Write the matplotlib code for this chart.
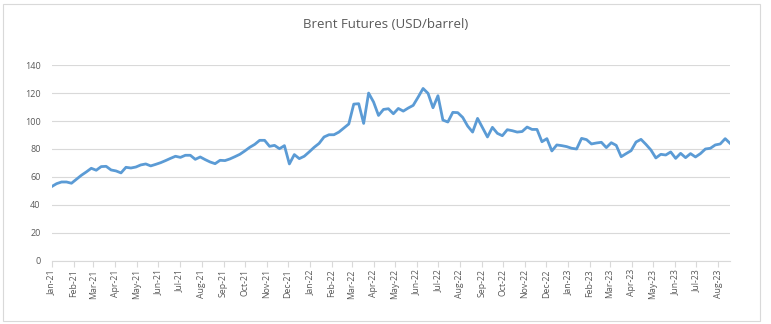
import numpy as np
import pandas as pd
import matplotlib.pyplot as plt
import matplotlib.dates as mdates
from matplotlib.patches import Rectangle

# weekly Brent futures prices (USD/barrel)
prices = [
    53.1, 55.2, 56.4, 56.4, 55.5, 58.3, 61.2, 63.6, 66.2, 64.8,
    67.4, 67.6, 65.0, 64.3, 62.9, 66.9, 66.4, 67.1, 68.6, 69.3,
    67.9, 69.0, 70.2, 71.7, 73.3, 74.8, 74.0, 75.5, 75.5, 72.6,
    74.3, 72.4, 70.7, 69.5, 71.9, 71.7, 72.9, 74.5, 76.2, 78.6,
    81.2, 83.3, 86.2, 86.2, 81.9, 82.6, 80.2,
    82.4, 69.3, 76.0, 73.1, 74.8, 77.9, 81.2, 84.0, 88.6, 90.2,
    90.2, 92.1, 95.0, 97.9, 112.1, 112.4, 98.3, 120.0, 113.6, 104.0,
    108.3, 108.8, 105.2, 109.0, 107.1, 109.3, 111.2, 117.1, 123.3, 119.8,
    109.5, 118.1, 100.7, 99.3, 106.2, 106.0, 102.6, 96.4, 92.1, 101.9,
    95.2, 88.6, 95.5, 91.2, 89.5, 93.8, 93.1, 92.1,
    92.5, 95.7, 94.0, 94.0, 85.2, 87.4, 78.6, 82.9, 82.4, 81.7,
    80.5, 80.0, 87.6, 86.7, 83.6, 84.3, 84.8, 81.0, 84.5, 82.6,
    74.5, 76.7, 78.8, 85.0, 86.9, 83.3, 79.3, 73.6, 76.2, 75.7,
    77.9, 73.3, 76.9, 73.8, 76.7, 74.3, 76.7, 80.0, 80.5, 82.9,
    83.6, 87.4, 84.0,
]
dates = pd.date_range("2021-01-01", periods=len(prices), freq="7D")

title = "Brent Futures (USD/barrel)"
text_col = "#595959"
grid_col = "#d9d9d9"

plt.rcParams['font.family'] = ['Open Sans', 'DejaVu Sans']

fig = plt.figure(figsize=(7.71, 3.24), dpi=100)
fig.patches.append(Rectangle((0.004, 0.009), 0.982, 0.978, transform=fig.transFigure,
                             fill=False, edgecolor=grid_col, linewidth=0.8))
ax = fig.add_axes([0.067, 0.195, 0.88, 0.604])

ax.plot(dates, prices, color="#5b9bd5", linewidth=2.0)

ax.set_ylim(0, 140)
ax.set_yticks(np.arange(0, 141, 20))
ax.set_xlim(dates[0], dates[-1])
ax.xaxis.set_major_locator(mdates.MonthLocator())
ax.xaxis.set_major_formatter(mdates.DateFormatter("%b-%y"))

ax.grid(axis="y", color=grid_col, linewidth=0.8)
ax.set_axisbelow(True)
for s in ["top", "right", "left"]:
    ax.spines[s].set_visible(False)
ax.spines["bottom"].set_color(grid_col)

ax.tick_params(axis="y", length=0, labelsize=6.5, labelcolor=text_col, pad=8)
ax.tick_params(axis="x", length=4, color=grid_col, labelsize=6.3, labelcolor=text_col,
               labelrotation=90, pad=2)

fig.text(0.5, 0.925, title, ha="center", va="center", fontsize=9.5, color=text_col)

fig.savefig("out.png", dpi=100)
